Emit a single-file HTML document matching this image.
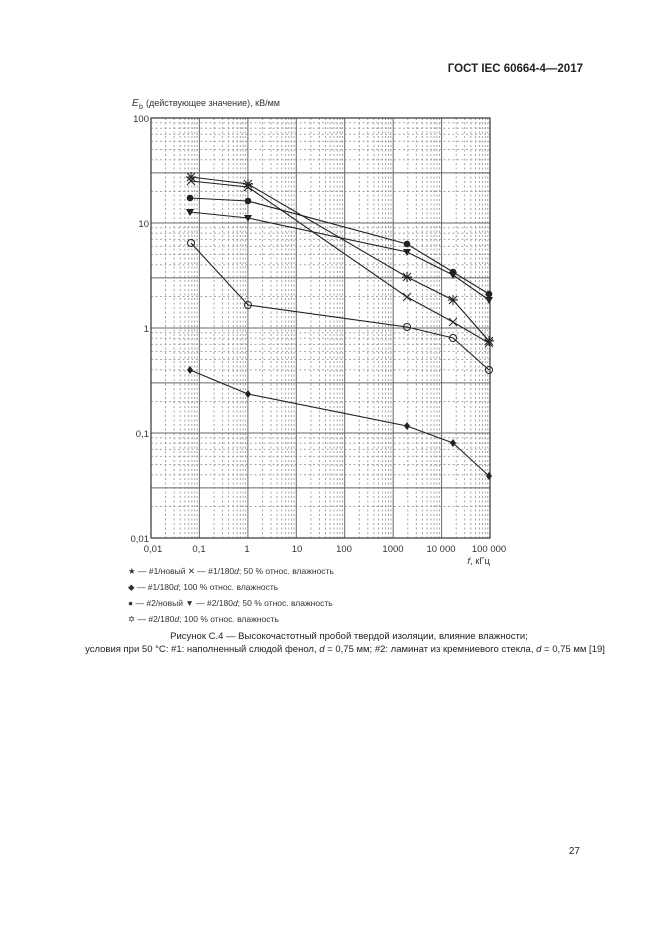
<!DOCTYPE html>
<html><head><meta charset="utf-8"><style>
body{margin:0;background:#fff;}
svg{display:block;font-family:"Liberation Sans",sans-serif;}
</style></head><body>
<svg width="661" height="935" viewBox="0 0 661 935" xmlns="http://www.w3.org/2000/svg">
<rect width="661" height="935" fill="#fff"/>
<text x="583" y="72" font-size="11.5" font-weight="bold" text-anchor="end" fill="#222">ГОСТ IEC 60664-4—2017</text>
<text x="132" y="106" font-size="10" font-style="italic" fill="#333">E</text>
<text x="139" y="109" font-size="7" fill="#333">b</text>
<text x="146" y="106" font-size="9" fill="#333">(действующее значение), кВ/мм</text>
<!-- minor vertical grid -->
<path fill="none" stroke="#999" stroke-width="0.9" stroke-dasharray="2,2.5" d="
M165.6,118V538M174.1,118V538M180.2,118V538M184.9,118V538M188.7,118V538M191.9,118V538M194.7,118V538M197.2,118V538
M214,118V538M222.5,118V538M228.6,118V538M233.3,118V538M237.1,118V538M240.3,118V538M243.1,118V538M245.6,118V538
M262.5,118V538M271,118V538M277.1,118V538M281.8,118V538M285.6,118V538M288.8,118V538M291.6,118V538M294.1,118V538
M310.9,118V538M319.4,118V538M325.5,118V538M330.2,118V538M334,118V538M337.2,118V538M340,118V538M342.5,118V538
M359.3,118V538M367.8,118V538M373.9,118V538M378.6,118V538M382.4,118V538M385.6,118V538M388.4,118V538M390.9,118V538
M407.8,118V538M416.3,118V538M422.4,118V538M427.1,118V538M430.9,118V538M434.1,118V538M436.9,118V538M439.4,118V538
M456.2,118V538M464.7,118V538M470.8,118V538M475.5,118V538M479.3,118V538M482.5,118V538M485.3,118V538M487.8,118V538
M151,506.4H490M151,474.8H490M151,464.6H490M151,456.3H490M151,449.3H490M151,443.2H490M151,437.8H490
M151,401.4H490M151,369.8H490M151,359.6H490M151,351.3H490M151,344.3H490M151,338.2H490M151,332.8H490
M151,296.4H490M151,264.8H490M151,254.6H490M151,246.3H490M151,239.3H490M151,233.2H490M151,227.8H490
M151,191.4H490M151,159.8H490M151,149.6H490M151,141.3H490M151,134.3H490M151,128.2H490M151,122.8H490"/>
<!-- major grid -->
<path fill="none" stroke="#666" stroke-width="1" d="
M199.4,118V538M247.9,118V538M296.3,118V538M344.7,118V538M393.2,118V538M441.6,118V538
M151,433H490M151,328H490M151,223H490M151,487.9H490M151,382.9H490M151,277.9H490M151,172.9H490"/>
<rect x="151" y="118" width="339" height="420" fill="none" stroke="#333" stroke-width="1.2"/>
<g font-size="9.5" fill="#333" text-anchor="end">
<text x="149" y="122">100</text><text x="149" y="227">10</text><text x="149" y="332">1</text><text x="149" y="437">0,1</text><text x="149" y="542">0,01</text>
</g>
<g font-size="9.5" fill="#333" text-anchor="middle">
<text x="153" y="552">0,01</text><text x="199" y="552">0,1</text><text x="247" y="552">1</text><text x="297" y="552">10</text><text x="344" y="552">100</text><text x="393" y="552">1000</text><text x="441" y="552">10 000</text><text x="489" y="552">100 000</text>
</g>
<text x="490" y="564" font-size="9.5" fill="#333" text-anchor="end"><tspan font-style="italic">f</tspan>, кГц</text>
<g fill="none" stroke="#222" stroke-width="1.1">
<polyline points="191,177 248,184 407,277 453,300 489,341"/>
<polyline points="191,181 248,187 407,297 453,322 489,343"/>
<polyline points="190,370 248,394 407,426 453,443 489,476"/>
<polyline points="190,198 248,201 407,244 453,272 489,294"/>
<polyline points="190,212 248,218 407,252 453,275 489,300"/>
<polyline points="191,243 248,305 407,327 453,338 489,370"/>
</g>
<g fill="#222">
<circle cx="190" cy="198" r="3.3"/><circle cx="248" cy="201" r="3.3"/><circle cx="407" cy="244" r="3.3"/><circle cx="453" cy="272" r="3.3"/><circle cx="489" cy="294" r="3.3"/>
<path d="M186,209h8l-4,7z M244,215h8l-4,7z M403,249h8l-4,7z M449,272h8l-4,7z M485,297h8l-4,7z"/>
<path d="M190,366l3,4l-3,4l-3,-4z M248,390l3,4l-3,4l-3,-4z M407,422l3,4l-3,4l-3,-4z M453,439l3,4l-3,4l-3,-4z M489,472l3,4l-3,4l-3,-4z"/>
</g>
<g fill="none" stroke="#222" stroke-width="1">
<path d="M186,177h10M191,172v10M187,173l8,8M195,173l-8,8 M243,184h10M248,179v10M244,180l8,8M252,180l-8,8 M402,277h10M407,272v10M403,273l8,8M411,273l-8,8 M448,300h10M453,295v10M449,296l8,8M457,296l-8,8 M484,341h10M489,336v10M485,337l8,8M493,337l-8,8"/>
<path d="M187,177l8,8M195,177l-8,8 M244,183l8,8M252,183l-8,8 M403,293l8,8M411,293l-8,8 M449,318l8,8M457,318l-8,8 M485,339l8,8M493,339l-8,8"/>
<circle cx="191" cy="243" r="3.5"/><circle cx="248" cy="305" r="3.5"/><circle cx="407" cy="327" r="3.5"/><circle cx="453" cy="338" r="3.5"/><circle cx="489" cy="370" r="3.5"/>
</g>
<g font-size="8.5" fill="#333">
<text x="128" y="574">★ — #1/новый   ✕ — #1/180<tspan font-style="italic">d</tspan>; 50 % относ. влажность</text>
<text x="128" y="590">◆ — #1/180<tspan font-style="italic">d</tspan>; 100 % относ. влажность</text>
<text x="128" y="606">● — #2/новый   ▼ — #2/180<tspan font-style="italic">d</tspan>; 50 % относ. влажность</text>
<text x="128" y="622">✡ — #2/180<tspan font-style="italic">d</tspan>; 100 % относ. влажность</text>
</g>
<g font-size="9.5" fill="#222" text-anchor="middle">
<text x="349" y="639">Рисунок С.4 — Высокочастотный пробой твердой изоляции, влияние влажности;</text>
<text x="345" y="652">условия при 50 °С: #1: наполненный слюдой фенол, <tspan font-style="italic">d</tspan> = 0,75 мм; #2: ламинат из кремниевого стекла, <tspan font-style="italic">d</tspan> = 0,75 мм [19]</text>
</g>
<text x="580" y="854" font-size="10" fill="#222" text-anchor="end">27</text>
</svg>
</body></html>
